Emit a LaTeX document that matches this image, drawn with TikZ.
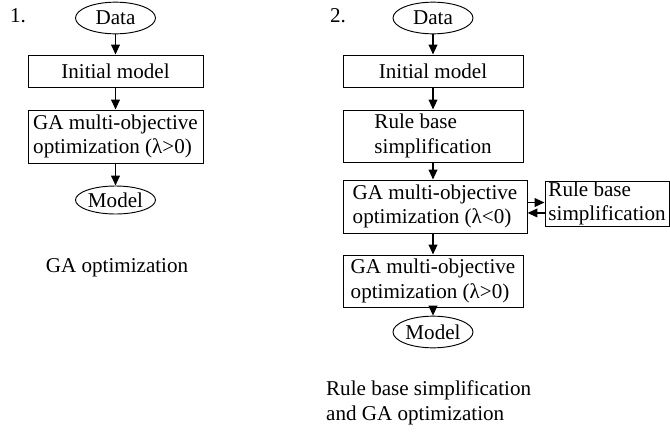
\documentclass[tikz,border=0pt]{standalone}
\usepackage{fontspec}
\setmainfont{Liberation Serif}
\usetikzlibrary{arrows.meta,shapes.geometric}

\begin{document}
\begin{tikzpicture}[x=0.03cm,y=-0.03cm,
  font=\fontsize{18}{21}\selectfont,
  box/.style={draw,line width=0.8pt,align=left,inner sep=0pt},
  oval/.style={draw,ellipse,line width=0.8pt,inner sep=0pt,minimum width=2.4cm,minimum height=0.95cm},
  flow/.style={line width=1.5pt,-{Triangle[length=3mm,width=2.6mm]}}]
  \useasboundingbox (0,0) rectangle (670,443);
  % scheme 1
  \node[anchor=west] (num1) at (6,16) {1.};
  \node[oval] (data1) at (115.5,18) {Data};
  \node[box,minimum width=5.25cm,minimum height=0.96cm] (init1) at (115.5,71) {Initial model};
  \node[box,minimum width=5.25cm,minimum height=1.59cm] (ga1) at (115.5,136.5) {GA multi-objective\\optimization (λ>0)};
  \node[oval,minimum height=0.84cm] (model1) at (115.5,200) {Model};
  \node (lab1) at (117,268) {GA optimization};
  \draw[flow] (data1) -- (init1);
  \draw[flow] (init1) -- (ga1);
  \draw[flow] (ga1) -- (model1);
  % scheme 2
  \node[anchor=west] (num2) at (326,16) {2.};
  \node[oval] (data2) at (433,18) {Data};
  \node[box,minimum width=5.4cm,minimum height=0.96cm] (init2) at (433,71) {Initial model};
  \node[box,minimum width=5.4cm,minimum height=1.56cm] (simp2) at (433,136) {Rule base\\simplification};
  \node[box,minimum width=5.52cm,minimum height=1.59cm] (ganeg2) at (435,206.5) {GA multi-objective\\optimization (λ<0)};
  \node[box,minimum width=3.72cm,minimum height=1.35cm] (simpside) at (607,203.5) {Rule base\\simplification};
  \node[box,minimum width=5.4cm,minimum height=1.56cm] (gapos2) at (433,281) {GA multi-objective\\optimization (λ>0)};
  \node[oval] (model2) at (433,332) {Model};
  \node[anchor=west,align=left] (lab2) at (322,403) {Rule base simplification\\and GA optimization};
  \draw[flow] (data2) -- (init2);
  \draw[flow] (init2) -- (simp2);
  \draw[flow] (simp2) -- (ganeg2.north -| simp2);
  \draw[flow] (ganeg2.south -| gapos2) -- (gapos2);
  \draw[flow] (gapos2) -- (model2);
  \coordinate (out2) at ([yshift=3.4pt]ganeg2.east);
  \coordinate (back2) at ([yshift=-5.5pt]ganeg2.east);
  \draw[flow] (out2) -- (out2 -| simpside.west);
  \draw[flow] (back2 -| simpside.west) -- (back2);
\end{tikzpicture}
\end{document}
